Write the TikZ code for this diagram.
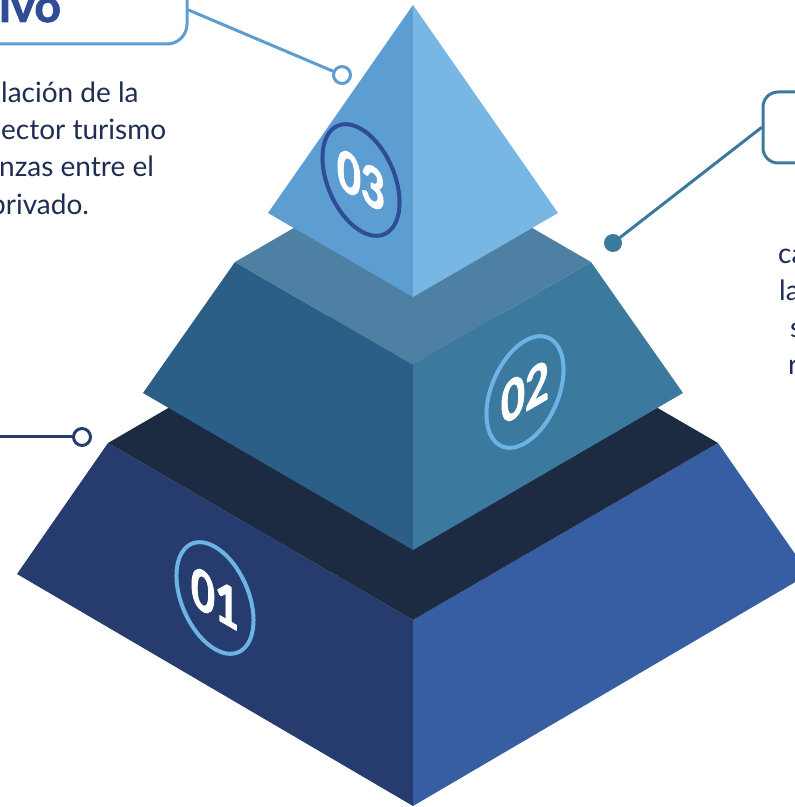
\documentclass[tikz,border=0pt]{standalone}
\usepackage{fontspec}
\setmainfont{Lato}
\newfontfamily\heavyfont{Lato}[BoldFeatures={FakeBold=2}]
\definecolor{baseleft}{HTML}{263B6E}
\definecolor{baseright}{HTML}{375EA3}
\definecolor{baseband}{HTML}{1C2B42}
\definecolor{midleft}{HTML}{2B5F87}
\definecolor{midright}{HTML}{3C799E}
\definecolor{midtop}{HTML}{4E80A4}
\definecolor{topleft}{HTML}{5C9DD2}
\definecolor{topright}{HTML}{78B7E4}
\definecolor{ringlight}{HTML}{6DB3E4}
\definecolor{ringdark}{HTML}{2F4D96}
\definecolor{txtnavy}{HTML}{1F2D55}
\begin{document}
\begin{tikzpicture}[x=1pt, y=1pt, line join=round, line cap=round,
	numring/.style={circle, minimum size=89pt, inner sep=0pt, line width=4pt, text=white, font=\heavyfont\bfseries\fontsize{48}{48}\selectfont, transform shape},
	bodytext/.style={anchor=base west, inner sep=0pt, text=txtnavy, font=\fontsize{28}{28}\selectfont},
	linkline/.style={line width=3pt},
	opendot/.style={circle, fill=white, line width=3pt, minimum size=17pt, inner sep=0pt}]
		\useasboundingbox (0,0) rectangle (795,807);
		\clip (0,0) rectangle (795,807);
		% bottom block
		\fill[baseleft] (17,233)--(413,1)--(413,187)--(108,364)--cycle;
		\fill[baseright] (413,1)--(809,233)--(718,364)--(413,187)--cycle;
		\fill[baseband] (108,364)--(413,187)--(718,364)--(413,541)--cycle;
		% middle block
		\fill[midleft] (143,414)--(413,257)--(413,442)--(235,545)--cycle;
		\fill[midright] (413,257)--(683,414)--(591,545)--(413,442)--cycle;
		\fill[midtop] (235,545)--(413,442)--(591,545)--(413,648)--cycle;
		% top pyramid
		\fill[topleft] (268,594)--(413,510)--(413,802)--cycle;
		\fill[topright] (413,510)--(558,594)--(413,802)--cycle;
		\begin{scope}[shift={(215,209)}, cm={0.866,-0.5,0,1.15,(0,0)}]
		\node[numring, draw=ringlight] (n01) {01};
		\end{scope}
		\begin{scope}[shift={(525,415)}, cm={0.866,0.5,0,1.15,(0,0)}]
		\node[numring, draw=ringlight] (n02) {02};
		\end{scope}
		\begin{scope}[shift={(361,627)}, cm={0.866,-0.5,0,1.15,(0,0)}]
		\node[numring, draw=ringdark] (n03) {03};
		\end{scope}
		% callout top left
		\node[draw=topleft, line width=3pt, rounded corners=20pt, minimum width=247pt, minimum height=68pt] (obox) at (63.5,797) {};
		\node[anchor=base west, inner sep=0pt, text=ringdark, font=\heavyfont\bfseries\fontsize{46}{46}\selectfont] (otitle) at (-1,785) {ivo};
		\node[opendot, draw=topleft] (odot) at (342,732) {};
		\draw[linkline, topleft] (obox.east)--(odot);
		\node[bodytext] (ol1) at (1,704) {lación de la};
		\node[bodytext] (ol2) at (1,667) {ector turismo};
		\node[bodytext] (ol3) at (-1,630) {nzas entre el};
		\node[bodytext] (ol4) at (-10,592) {privado.};
		% callout right
		\node[draw=midright, line width=3pt, rounded corners=15pt, minimum width=140pt, minimum height=71pt] (rbox) at (833,679.5) {};
		\node[circle, fill=midright, minimum size=18pt, inner sep=0pt] (rdot) at (613,564) {};
		\draw[linkline, midright] (rbox.west)--(rdot);
		\node[bodytext] (rl1) at (778,543) {ca};
		\node[bodytext] (rl2) at (779,506) {la};
		\node[bodytext] (rl3) at (790,469) {s};
		\node[bodytext] (rl4) at (788,432) {r};
		% callout left
		\coordinate (lfree) at (-5,370);
		\node[opendot, draw=baseleft] (ldot) at (82,370) {};
		\draw[linkline, baseleft] (lfree)--(ldot);
\end{tikzpicture}
\end{document}
